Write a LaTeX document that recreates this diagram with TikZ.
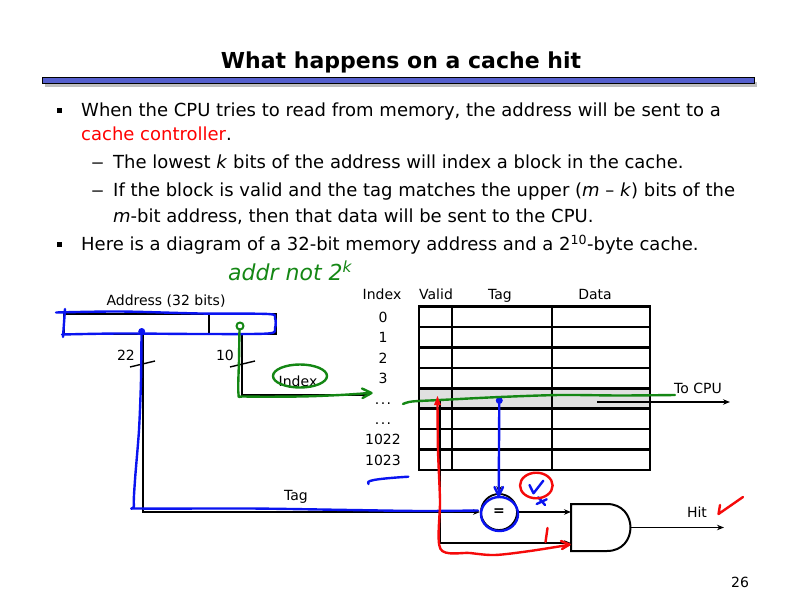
\documentclass[tikz,border=0pt]{standalone}
\usepackage{fontspec}
\usepackage{graphicx}
\setmainfont{DejaVu Sans}
\usetikzlibrary{arrows.meta}
\definecolor{penblue}{RGB}{10,20,240}
\definecolor{pengreen}{RGB}{20,135,20}
\definecolor{penred}{RGB}{245,10,10}
\definecolor{rulecol}{RGB}{85,95,205}
\definecolor{hilite}{RGB}{224,224,224}
\definecolor{ctrlred}{RGB}{255,0,0}
\begin{document}
\begin{tikzpicture}[x=1pt,y=-1pt,
  body/.style={anchor=base west,inner sep=0pt,font=\fontsize{18}{20}\selectfont},
  lbl/.style={inner sep=0pt,font=\fontsize{14}{16}\selectfont},
  blbl/.style={lbl,anchor=base},
  wire/.style={line width=1.4pt,black},
  arr/.style={-{Stealth[length=7pt,width=5.5pt]}},
  cell/.style={line width=2.5pt,line cap=rect},
  pen/.style={line width=2.4pt,line cap=round,line join=round},
  bullet/.style={fill=black}
]
\useasboundingbox (0,0) rectangle (792,612);
\fill[white] (0,0) rectangle (792,612);

% ---- title ----
\node[anchor=base,inner sep=0pt,font=\bfseries\fontsize{22}{26}\selectfont] (title) at (401,69) {What happens on a cache hit};
\fill[black!25] (45,82) rectangle (757,87.5);
\draw[fill=rulecol,line width=1pt] (42,78) rectangle (754,84);

% ---- bullet text ----
\fill[bullet] (57,108) rectangle (62,113);
\node[body] (l1) at (81,117) {When the CPU tries to read from memory, the address will be sent to a};
\node[body] (l2) at (81,141) {\textcolor{ctrlred}{cache controller}.};
\node[body] (d1) at (91,169) {\scalebox{1.45}[1]{–}};
\node[body] (l3) at (113,169) {The lowest \textit{k} bits of the address will index a block in the cache.};
\node[body] (d2) at (91,197) {\scalebox{1.45}[1]{–}};
\node[body] (l4) at (113,197) {If the block is valid and the tag matches the upper (\textit{m} – \textit{k}) bits of the};
\node[body] (l5) at (113,223) {\textit{m}-bit address, then that data will be sent to the CPU.};
\fill[bullet] (57,242) rectangle (62,247);
\node[body] (l6) at (81,251) {Here is a diagram of a 32-bit memory address and a 2\textsuperscript{10}-byte cache.};

% ---- address register ----
\node[draw,line width=2.2pt,minimum width=212pt,minimum height=20pt,inner sep=0pt,anchor=north west] (addr) at (63,313) {};
\draw[line width=2.2pt] (209,313) -- (209,333);
\node[lbl] (addrlbl) at (166,301) {Address (32 bits)};
\coordinate (tagsrc) at (143,333);
\coordinate (idxsrc) at (242,333);
\coordinate (tagbend) at (143,512);
\coordinate (idxbend) at (242,395);
\coordinate (idxend) at (370,395);
\node[lbl] (n22) at (126,355) {22};
\node[lbl] (n10) at (225,355) {10};
\node[lbl] (idxlbl) at (298,381) {Index};
\node[lbl] (taglbl) at (296,497) {Tag};
\draw[wire] (130,367) -- (155,361);
\draw[wire] (230,367) -- (255,361);

% ---- cache table ----
\fill[hilite] (419,389) rectangle (650,408.3);
\foreach \i in {0,1,2,3,4,5,6,7,8} \draw[cell] (419,{306.7+20.4*\i}) -- (650,{306.7+20.4*\i});
\foreach \x in {419,452,552,650} \draw[cell] (\x,306.7) -- (\x,470);
\node[blbl] (hidx) at (382,299.5) {Index};
\node[blbl] (hval) at (436,299.5) {Valid};
\node[blbl] (htag) at (500,299.5) {Tag};
\node[blbl] (hdat) at (595,299.5) {Data};
\node[blbl] (row0) at (383,322.4) {0};
\node[blbl] (row1) at (383,342.8) {1};
\node[blbl] (row2) at (383,363.2) {2};
\node[blbl] (row3) at (383,383.6) {3};
\node[blbl] (row4) at (383,404.0) {.\hspace{1.5pt}.\hspace{1.5pt}.};
\node[blbl] (row5) at (383,424.4) {.\hspace{1.5pt}.\hspace{1.5pt}.};
\node[blbl] (row6) at (383,444.8) {1022};
\node[blbl] (row7) at (383,465.2) {1023};

\coordinate (validpt) at (440,398.5);
\coordinate (tagpt) at (499,398.5);
\coordinate (datapt) at (597,402);
\coordinate (cpu) at (730,402);
\node[lbl] (cpulbl) at (698,388.5) {To CPU};

% ---- comparator and AND ----
\node[circle,draw,line width=1.8pt,minimum size=36pt,inner sep=0pt,font=\bfseries\fontsize{14}{14}\selectfont] (cmp) at (499,512) {=};
\draw[line width=2pt] (571,504) -- (607,504) .. controls (638.3,504) and (638.3,551) .. (607,551) -- (571,551) -- cycle;
\coordinate (andA) at (571,512);
\coordinate (andB) at (571,543);
\coordinate (andOut) at (631,527.5);
\coordinate (hitEnd) at (724,527.5);
\node[lbl] (hitlbl) at (697,512) {Hit};
\node[lbl] (page) at (740,582) {26};

\draw[wire,arr] (tagsrc) -- (tagbend) -- (cmp.west);
\draw[wire,arr] (idxsrc) -- (idxbend) -- (idxend);
\draw[wire,arr] (tagpt) -- (cmp.north);
\draw[wire,arr] (cmp.east) -- (andA);
\draw[wire,arr] (validpt) |- (andB);
\draw[wire,arr] (datapt) -- (cpu);
\draw[wire,arr] (andOut) -- (hitEnd);

% ---- blue ink ----
\draw[pen,penblue] plot[smooth,tension=0.5] coordinates {(56,312.5) (120,311.5) (200,313.5) (268,314) (275,318) (275,328) (268,333.5) (200,334) (120,333.5) (62,334.5)};
\draw[pen,penblue] (65,309) -- (63,337);
\fill[penblue] (141.7,331.5) circle (3.5);
\draw[pen,penblue] plot[smooth,tension=0.5] coordinates {(141.5,332) (141,380) (139,430) (135,480) (134,506) (140,508.5) (250,508.5) (350,510) (420,511) (478,510.5)};
\fill[penblue] (499.3,400.5) circle (3.5);
\draw[pen,penblue] (499.3,400) -- (498.7,495);
\draw[pen,penblue] (494.5,487) -- (498.7,496) -- (503,487);
\draw[pen,penblue] (499.5,514) ellipse (18.5 and 17);
\draw[pen,penblue] (529.5,485) -- (533.5,493.3) -- (543.3,480.7);
\draw[pen,penblue] (538.3,497.3) -- (545,505);
\draw[pen,penblue] (536.7,504) -- (546.7,499.3);
\draw[pen,penblue] (368.5,484) .. controls (365,481) and (372,479) .. (408.3,476.7);

% ---- green ink ----
\node[text=pengreen,inner sep=0pt,anchor=base west,font=\itshape\fontsize{22}{22}\selectfont] (note) at (228,280) {addr not 2\textsuperscript{k}};
\draw[pen,pengreen,line width=2pt] (240,326) circle (3.5);
\draw[pen,pengreen] plot[smooth,tension=0.5] coordinates {(239.5,329.5) (239,360) (238.5,394) (245,396.5) (300,396.5) (340,395) (370,393)};
\draw[pen,pengreen] (362,388.5) -- (371.5,393) -- (362.5,398);
\draw[pen,pengreen] (300,376) ellipse (27 and 11.5);
\draw[pen,pengreen] plot[smooth,tension=0.5] coordinates {(403,404) (412,401.5) (440,400) (500,397) (560,395) (620,395.5) (675,395)};

% ---- red ink ----
\fill[penred] (434,405) -- (437.5,396) -- (441,405) -- cycle;
\draw[pen,penred] plot[smooth,tension=0.5] coordinates {(437.5,402) (438,450) (440,500) (440.5,549) (470,553) (495,555) (530,551) (568,545)};
\draw[pen,penred] (561,541) -- (569.5,544.5) -- (562,549);
\draw[pen,penred] (547.5,528) -- (545.5,542);
\draw[pen,penred] (536.3,485.5) ellipse (16.3 and 12.8);
\draw[pen,penred] (720,505) -- (718.5,514) -- (743,497);
\end{tikzpicture}
\end{document}
